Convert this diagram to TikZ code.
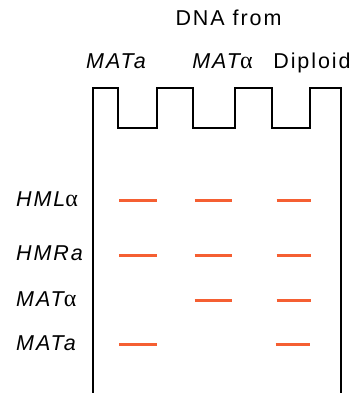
\documentclass[tikz,border=0pt]{standalone}
\usepackage{fontspec}
\setmainfont{Liberation Sans}[LetterSpace=9]
\newfontfamily\greekfont{Liberation Serif}
\newcommand{\galpha}{{\upshape\greekfont\fontsize{24}{26}\selectfont α}}
\usetikzlibrary{positioning}

\definecolor{bandred}{RGB}{245,95,50}

\begin{document}
\begin{tikzpicture}[
    x=1pt, y=-1pt,
    gel_line/.style={black, line width=1.1pt},
    band_line/.style={bandred, line width=2.8pt},
    lane_label/.style={anchor=base, inner sep=0pt, font=\fontsize{21.5}{24}\selectfont},
    gene_label/.style={anchor=base west, inner sep=0pt, font=\fontsize{21.5}{24}\selectfont\itshape}
]
    \useasboundingbox (0,0) rectangle (353,393);

    % ======================================================================
    % Kopf: Herkunft der DNA
    % ======================================================================
    \node[lane_label] (dnafrom) at (228.5,26) {DNA from};
    \node[lane_label] (lane_a) at (116,68.3) {\itshape MATa};
    \node[lane_label] (lane_alpha) at (222.5,68.3) {\itshape MAT\galpha};
    \node[lane_label] (lane_dip) at (312,68.3) {Diploid};

    % ======================================================================
    % Gel mit Taschen
    % ======================================================================
    \draw[gel_line] (93,393) -- (93,88) -- (118,88) -- (118,128) -- (157,128)
        -- (157,88) -- (193,88) -- (193,128) -- (235,128) -- (235,88)
        -- (272,88) -- (272,128) -- (310,128) -- (310,88) -- (341,88) -- (341,393);

    % ======================================================================
    % Sonden links
    % ======================================================================
    \node[gene_label] (hml) at (16,206.7) {HML\galpha};
    \node[gene_label] (hmr) at (16,260.7) {HMRa};
    \node[gene_label] (matalpha) at (16,306.7) {MAT\galpha};
    \node[gene_label] (mata) at (16,350.7) {MATa};

    % ======================================================================
    % Banden
    % ======================================================================
    % HMLalpha und HMRa in allen drei Spuren
    \foreach \y in {200.7, 255.7} {
        \draw[band_line] (119,\y) -- (156.5,\y);
        \draw[band_line] (194.5,\y) -- (232,\y);
        \draw[band_line] (276.5,\y) -- (311,\y);
    }
    % MATalpha
    \draw[band_line] (194.5,300.4) -- (232,300.4);
    \draw[band_line] (276.5,300.4) -- (311,300.4);
    % MATa
    \draw[band_line] (119,344.3) -- (156.5,344.3);
    \draw[band_line] (275.5,344.3) -- (310,344.3);

\end{tikzpicture}
\end{document}
